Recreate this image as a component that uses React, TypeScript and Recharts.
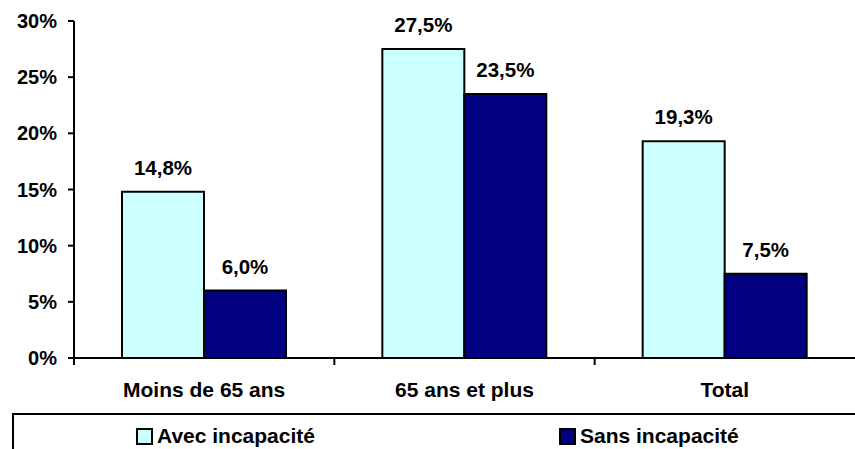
import { Bar, BarChart, LabelList, XAxis, YAxis } from "recharts";

const categories = ["Moins de 65 ans", "65 ans et plus", "Total"];
const avecIncapacite = [14.8, 27.5, 19.3];
const sansIncapacite = [6.0, 23.5, 7.5];
const yTicks = [0, 5, 10, 15, 20, 25, 30];

const series = [
  { key: "avec", label: "Avec incapacité", color: "#CCFFFF" },
  { key: "sans", label: "Sans incapacité", color: "#000080" }
];

const data = categories.map((name, i) => ({
  name,
  avec: avecIncapacite[i],
  sans: sansIncapacite[i]
}));

const font = "'Liberation Sans', Arial, sans-serif";
const W = 855;
const H = 449;
const margin = { top: 21, right: 0, left: 14, bottom: 51 };
const yAxisWidth = 60;
const band = (W - margin.left - margin.right - yAxisWidth) / categories.length;

const pct = (v: number) => `${v.toFixed(1).replace(".", ",")}%`;

function CategoryTick(props: any) {
  const { x, y, payload } = props;
  const axisY = y - 8;
  return (
    <g>
      <line x1={x - band / 2} y1={axisY} x2={x - band / 2} y2={axisY + 7} stroke="#000" strokeWidth={2} />
      <text x={x} y={axisY + 39} textAnchor="middle" fill="#000" fontSize={21} fontWeight="bold" fontFamily={font}>
        {payload.value}
      </text>
    </g>
  );
}

export default function App() {
  return (
    <div style={{ position: "absolute", left: 0, top: 0, width: W, height: H, background: "#fff", fontFamily: font }}>
      <BarChart width={W} height={H} data={data} margin={margin} barCategoryGap={48} barGap={0}>
        <XAxis
          dataKey="name"
          height={40}
          tickLine={false}
          tickSize={8}
          tickMargin={0}
          axisLine={{ stroke: "#000", strokeWidth: 2 }}
          tick={<CategoryTick />}
          interval={0}
        />
        <YAxis
          width={yAxisWidth}
          domain={[0, 30]}
          ticks={yTicks}
          tickFormatter={(v) => `${v}%`}
          tickSize={6}
          tickMargin={11}
          axisLine={{ stroke: "#000", strokeWidth: 2 }}
          tickLine={{ stroke: "#000", strokeWidth: 2 }}
          tick={{ fill: "#000", fontSize: 20, fontWeight: "bold", fontFamily: font }}
        />
        {series.map((s) => (
          <Bar key={s.key} dataKey={s.key} name={s.label} fill={s.color} stroke="#000" strokeWidth={2} isAnimationActive={false}>
            <LabelList
              dataKey={s.key}
              position="top"
              offset={17}
              formatter={(v: any) => pct(Number(v))}
              fill="#000"
              fontSize={20.5}
              fontWeight="bold"
              fontFamily={font}
            />
          </Bar>
        ))}
      </BarChart>
      <div
        style={{
          position: "absolute",
          left: 12,
          top: 413,
          width: 860,
          height: 60,
          border: "2px solid #000",
          boxSizing: "border-box"
        }}
      >
        {series.map((s, i) => (
          <div
            key={s.key}
            style={{
              position: "absolute",
              left: i === 0 ? 122 : 545,
              top: 9,
              display: "flex",
              alignItems: "center",
              fontSize: 21,
              fontWeight: "bold",
              lineHeight: "24px",
              whiteSpace: "nowrap"
            }}
          >
            <span
              style={{
                display: "inline-block",
                width: 13,
                height: 13,
                background: s.color,
                border: "2px solid #000",
                marginRight: 4
              }}
            />
            {s.label}
          </div>
        ))}
      </div>
    </div>
  );
}
